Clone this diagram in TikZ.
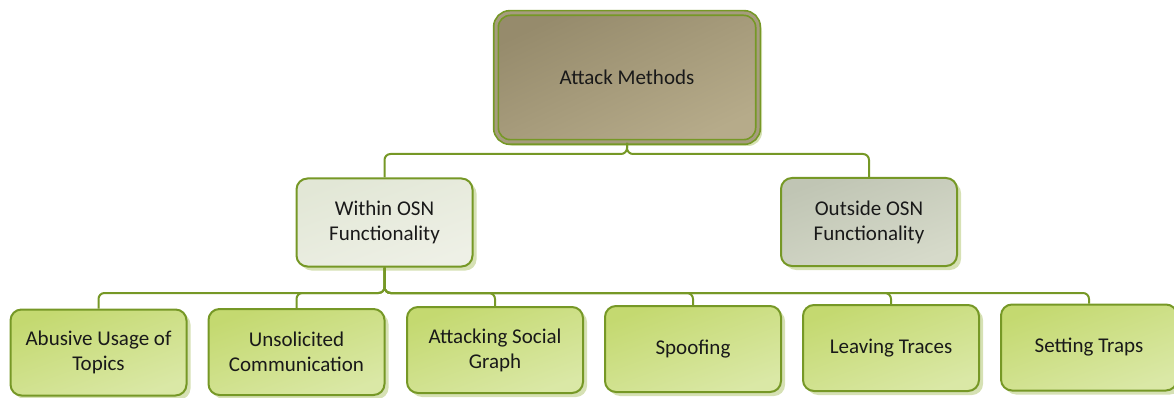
\documentclass[tikz,border=0pt]{standalone}
\usepackage{fontspec}
\setmainfont{Carlito}
\usetikzlibrary{shadows}

\definecolor{edgegreen}{RGB}{118,152,38}
\definecolor{shadegreen}{RGB}{214,225,180}
\definecolor{leafA}{RGB}{196,217,112}
\definecolor{leafB}{RGB}{218,232,166}
\definecolor{withinA}{RGB}{226,231,214}
\definecolor{withinB}{RGB}{238,240,230}
\definecolor{outsideA}{RGB}{192,197,180}
\definecolor{outsideB}{RGB}{214,218,202}
\definecolor{rootA}{RGB}{150,139,108}
\definecolor{rootB}{RGB}{182,171,138}
\definecolor{rootBand}{RGB}{166,156,126}

\tikzset{
  box/.style={
    draw=edgegreen, line width=2pt, rounded corners=11pt,
    align=center, font=\fontsize{21}{25}\selectfont, text=black!90,
    inner sep=0pt,
    general shadow={fill=shadegreen, shadow xshift=4pt, shadow yshift=-4pt}},
  leaf/.style={box, minimum width=176pt, minimum height=86pt,
    top color=leafA, bottom color=leafB, shading angle=20},
  mid/.style={box, minimum width=176pt, minimum height=88pt},
  root/.style={box, minimum width=262pt, minimum height=129pt,
    double=rootBand, double distance=3pt, line width=1.7pt, rounded corners=14pt,
    top color=rootA, bottom color=rootB, shading angle=25},
  link/.style={draw=edgegreen, line width=2pt, rounded corners=6pt},
}

\begin{document}
\begin{tikzpicture}[x=1pt,y=-1pt]
  \useasboundingbox (0,0) rectangle (1174,398);

  % root
  \node[root] (root) at (627,77.5) {Attack Methods};

  % second level
  \node[mid, top color=withinA, bottom color=withinB, shading angle=20]
    (within) at (384.5,222.5) {Within OSN\\Functionality};
  \node[mid, top color=outsideA, bottom color=outsideB, shading angle=20]
    (outside) at (869,222) {Outside OSN\\Functionality};

  % leaves
  \node[leaf] (abuse)  at (98.5,352.5) {Abusive Usage of\\Topics};
  \node[leaf] (unsol)  at (296.5,352)  {Unsolicited\\Communication};
  \node[leaf] (social) at (495,350)    {Attacking Social\\Graph};
  \node[leaf] (spoof)  at (693,349)    {Spoofing};
  \node[leaf] (traces) at (891,348)    {Leaving Traces};
  \node[leaf] (traps)  at (1089,347.5) {Setting Traps};

  % junction levels of the connectors
  \coordinate (busA) at (0,154);
  \coordinate (busB) at (0,293);

  % root to second level
  \foreach \c in {within,outside}
    \draw[link] (root.south) -- (root.south |- busA) -| (\c.north);

  % within to leaves
  \foreach \c in {abuse,unsol,social,spoof,traces,traps}
    \draw[link] (within.south) -- (within.south |- busB) -| (\c.north);
\end{tikzpicture}
\end{document}
